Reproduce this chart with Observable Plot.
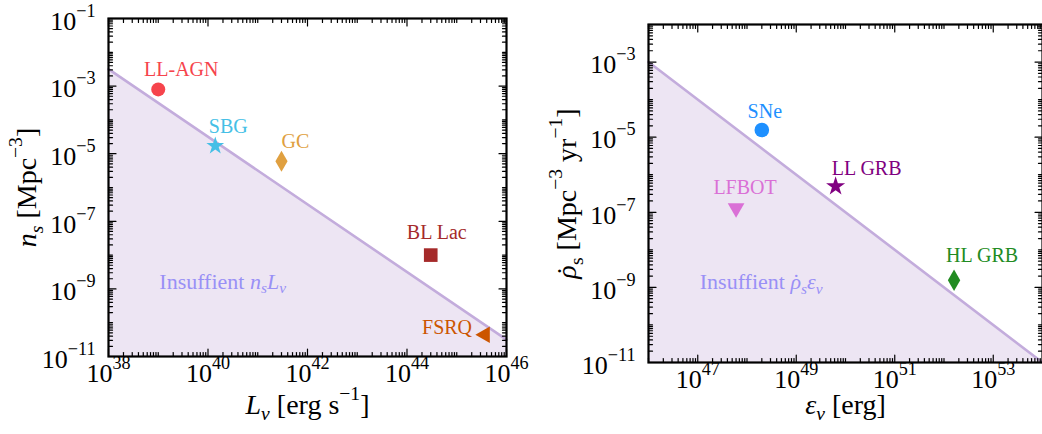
<!DOCTYPE html>
<html>
<head>
<meta charset="utf-8">
<script src="https://cdn.jsdelivr.net/npm/d3@7"></script>
<script src="https://cdn.jsdelivr.net/npm/@observablehq/plot@0.6"></script>
<style>
  html, body { margin: 0; padding: 0; background: #fff; overflow: hidden; }
  #wrap { display: flex; width: 1042px; height: 434px; overflow: hidden; }
  #wrap svg { flex: none; }
  #wrap svg.steady { position: relative; z-index: 2; overflow: visible; }
</style>
</head>
<body>
<div id="wrap"></div>
<script>
// ---- Steady sources: number density vs neutrino luminosity ----
const steadyNames = ["LL-AGN", "SBG", "GC", "BL Lac", "FSRQ"];
const steadyLuminosity = [1.0e39, 1.4e40, 3.0e41, 3.0e44, 3.7e45];   // erg s^-1
const steadyDensity = [8.0e-4, 1.7e-5, 6.0e-6, 1.0e-8, 4.4e-11];     // Mpc^-3
// n_s L_nu budget line (end points at the axis limits)
const steadyLimitL = [1e38, 1e46];
const steadyLimitN = [10 ** -2.5, 10 ** -10.5];

// ---- Transients: rate density vs neutrino energy ----
const transientNames = ["SNe", "LFBOT", "LL GRB", "HL GRB"];
const transientEnergy = [2.0e48, 6.0e47, 6.3e49, 1.6e52];             // erg
const transientRate = [1.55e-5, 1.3e-7, 4.9e-7, 1.55e-9];             // Mpc^-3 yr^-1
const transientLimitE = [1e46, 1e54];
const transientLimitR = [1e-3, 1e-11];

// ---- Tick positions (exponents) ----
const steadyXLabelExp = [38, 40, 42, 44, 46];
const steadyYLabelExp = [-11, -9, -7, -5, -3, -1];
const transientXLabelExp = [47, 49, 51, 53];
const transientYLabelExp = [-11, -9, -7, -5, -3];

// ---- Styling ----
const steadyColors = ["#f6444c", "#45bfe6", "#e0a040", "#a52a2a", "#cc5500"];
const steadySymbols = ["circle", "star", "diamond", "square", "triangle"];
const steadyRadius = [7, 5.6, 6.4, 7.7, 6.2];
const steadyRotate = [0, 0, 0, 0, -90];
const steadyLabelOffset = [[23, -20], [13, -19], [14, -20], [6, -23], [-38, -7]];

const transientColors = ["#1e90ff", "#da70d6", "#800080", "#228b22"];
const transientSymbols = ["circle", "triangle", "star", "diamond"];
const transientRadius = [7.3, 6.2, 6, 6.5];
const transientRotate = [0, 180, 0, 0];
const transientLabelOffset = [[3, -18], [9, -20], [31, -18], [28, -25]];

const SERIF = "'Liberation Serif', 'Times New Roman', serif";
const fillColor = "#ede5f3";
const lineColor = "#c3acdc";
const noteColor = "#9990f6";

// straight inward tick drawn by the vector mark
const tickShape = { draw(context, l) { context.moveTo(0, 0); context.lineTo(0, -l); } };

function logTicks(lo, hi, labeled) {
  const major = [], minor = [];
  for (let e = lo; e <= hi; e++) {
    const v = 10 ** e;
    (labeled.includes(e) ? major : minor).push(v);
    if (e < hi) for (let k = 2; k <= 9; k++) minor.push(k * v);
  }
  return { major, minor };
}

function frameTicks(xt, yt) {
  const marks = [];
  const common = { shape: tickShape, anchor: "start", stroke: "black", strokeWidth: 1.2 };
  for (const [vals, len] of [[xt.major, 7.5], [xt.minor, 4]]) {
    marks.push(Plot.vector(vals, { ...common, x: d => d, frameAnchor: "bottom", length: len, rotate: 0 }));
    marks.push(Plot.vector(vals, { ...common, x: d => d, frameAnchor: "top", length: len, rotate: 180 }));
  }
  for (const [vals, len] of [[yt.major, 7.5], [yt.minor, 4]]) {
    marks.push(Plot.vector(vals, { ...common, y: d => d, frameAnchor: "left", length: len, rotate: 90 }));
    marks.push(Plot.vector(vals, { ...common, y: d => d, frameAnchor: "right", length: len, rotate: -90 }));
  }
  return marks;
}

function tickLabels(xExp, yExp) {
  const fmt = e => `10^{${e < 0 ? "\u2212" + (-e) : e}}`;
  return [
    Plot.text(xExp, { x: e => 10 ** e, text: fmt, frameAnchor: "bottom", textAnchor: "middle", dy: 25, fontSize: 26, fill: "black" }),
    Plot.text(yExp, { y: e => 10 ** e, text: fmt, frameAnchor: "left", textAnchor: "end", dx: -13, dy: 3, fontSize: 26, fill: "black" })
  ];
}

function pointLabels(names, xs, ys, colors, offsets) {
  return names.map((name, i) => Plot.text([i], {
    x: j => xs[j], y: j => ys[j], text: () => name,
    dx: offsets[i][0], dy: offsets[i][1], fill: colors[i], fontSize: 20
  }));
}

function pointDots(xs, ys, colors, symbols, radius, rotate) {
  return xs.map((_, i) => Plot.dot([i], {
    x: j => xs[j], y: j => ys[j], symbol: symbols[i], r: radius[i], rotate: rotate[i],
    fill: colors[i], stroke: "none"
  }));
}

// ---- Left panel ----
const steadyXT = logTicks(38, 46, steadyXLabelExp);
const steadyYT = logTicks(-11, -1, steadyYLabelExp);
const left = Plot.plot({
  width: 520, height: 434,
  marginLeft: 108, marginRight: 14, marginTop: 18, marginBottom: 78,
  className: "steady",
  style: { fontFamily: SERIF, background: "white", overflow: "visible" },
  x: { type: "log", domain: [1e38, 1e46], axis: null },
  y: { type: "log", domain: [1e-11, 1e-1], axis: null },
  marks: [
    Plot.areaY(steadyLimitL.map((L, i) => i), { x: i => steadyLimitL[i], y1: 1e-11, y2: i => steadyLimitN[i], fill: fillColor }),
    Plot.line(steadyLimitL.map((L, i) => i), { x: i => steadyLimitL[i], y: i => steadyLimitN[i], stroke: lineColor, strokeWidth: 2.6 }),
    Plot.text(["Insuffient $n$_{$s$}$L$_{$\u03bd$}"], { x: 1.05e39, y: 10 ** -8.78, text: d => d, textAnchor: "start", fill: noteColor, fontSize: 22 }),
    ...pointDots(steadyLuminosity, steadyDensity, steadyColors, steadySymbols, steadyRadius, steadyRotate),
    ...pointLabels(steadyNames, steadyLuminosity, steadyDensity, steadyColors, steadyLabelOffset),
    ...frameTicks(steadyXT, steadyYT),
    Plot.frame({ stroke: "black", strokeWidth: 2.2 }),
    ...tickLabels(steadyXLabelExp, steadyYLabelExp),
    Plot.text(["$L$_{$\u03bd$} [erg s^{\u22121}]"], { frameAnchor: "bottom", textAnchor: "middle", dy: 57, text: d => d, fontSize: 28, fill: "black" }),
    Plot.text(["$n$_{$s$} [Mpc^{\u22123}]"], { frameAnchor: "left", textAnchor: "middle", dx: -81, rotate: -90, text: d => d, fontSize: 28, fill: "black" })
  ]
});

// ---- Right panel ----
const transientXT = logTicks(46, 54, transientXLabelExp);
const transientYT = logTicks(-11, -2, transientYLabelExp);
const right = Plot.plot({
  width: 522, height: 434,
  marginLeft: 128, marginRight: 0, marginTop: 24, marginBottom: 72,
  style: { fontFamily: SERIF, background: "none" },
  x: { type: "log", domain: [1e46, 1e54], axis: null },
  y: { type: "log", domain: [1e-11, 1e-2], axis: null },
  marks: [
    Plot.areaY(transientLimitE.map((E, i) => i), { x: i => transientLimitE[i], y1: 1e-11, y2: i => transientLimitR[i], fill: fillColor }),
    Plot.line(transientLimitE.map((E, i) => i), { x: i => transientLimitE[i], y: i => transientLimitR[i], stroke: lineColor, strokeWidth: 2.6 }),
    Plot.text(["Insuffient $\u03c1\u0307$_{$s$}$\u03b5$_{$\u03bd$}"], { x: 1.1e47, y: 10 ** -8.85, text: d => d, textAnchor: "start", fill: noteColor, fontSize: 22 }),
    ...pointDots(transientEnergy, transientRate, transientColors, transientSymbols, transientRadius, transientRotate),
    ...pointLabels(transientNames, transientEnergy, transientRate, transientColors, transientLabelOffset),
    ...frameTicks(transientXT, transientYT),
    Plot.frame({ stroke: "black", strokeWidth: 2.2 }),
    ...tickLabels(transientXLabelExp, transientYLabelExp),
    Plot.text(["$\u03b5$_{$\u03bd$} [erg]"], { frameAnchor: "bottom", textAnchor: "middle", dy: 51, text: d => d, fontSize: 28, fill: "black" }),
    Plot.text(["$\u03c1\u0307$_{s} [Mpc^{\u22123} yr^{\u22121}]"], { frameAnchor: "left", textAnchor: "middle", dx: -81, rotate: -90, text: d => d, fontSize: 28, fill: "black" })
  ]
});

const wrap = document.getElementById("wrap");
left.classList.add("steady");
wrap.append(left, right);

// Turn the small markup ($italic$, ^{sup}, _{sub}, combining dot) into tspans.
function parseMarkup(s) {
  const out = [];
  let italic = false, buf = "", i = 0;
  const flush = () => { if (buf) out.push({ text: buf, italic, level: "" }); buf = ""; };
  while (i < s.length) {
    const c = s[i];
    if (c === "$") { flush(); italic = !italic; i++; }
    else if (c === "\u0307") { flush(); out.push({ dot: true, italic, level: "" }); i++; }
    else if ((c === "^" || c === "_") && s[i + 1] === "{") {
      flush();
      const j = s.indexOf("}", i + 2);
      let inner = s.slice(i + 2, j);
      let it = italic;
      if (inner.startsWith("$") && inner.endsWith("$")) { inner = inner.slice(1, -1); it = true; }
      out.push({ text: inner, italic: it, level: c === "^" ? "sup" : "sub" });
      i = j + 1;
    } else { buf += c; i++; }
  }
  flush();
  return out;
}

for (const svg of [left, right]) {
  d3.select(svg).selectAll("text").each(function () {
    const s = this.textContent;
    if (!/[$^_\u0307]/.test(s)) return;
    const fs = parseFloat(getComputedStyle(this).fontSize) || 20;
    const t = d3.select(this);
    t.text(null);
    let shift = 0, carry = 0;
    for (const seg of parseMarkup(s)) {
      if (seg.dot) {
        // dot accent centred over the preceding letter
        t.append("tspan").text("\u02d9").attr("dx", (-0.38 * fs).toFixed(1));
        carry = 0.05 * fs;
        continue;
      }
      const target = seg.level === "sup" ? -0.5 * fs : seg.level === "sub" ? 0.22 * fs : 0;
      const ts = t.append("tspan").text(seg.text);
      if (target !== shift) { ts.attr("dy", (target - shift).toFixed(1)); shift = target; }
      if (carry) { ts.attr("dx", carry.toFixed(1)); carry = 0; }
      if (seg.level) ts.attr("font-size", (0.7 * fs).toFixed(1));
      if (seg.italic) ts.attr("font-style", "italic");
    }
  });
}
</script>
</body>
</html>
